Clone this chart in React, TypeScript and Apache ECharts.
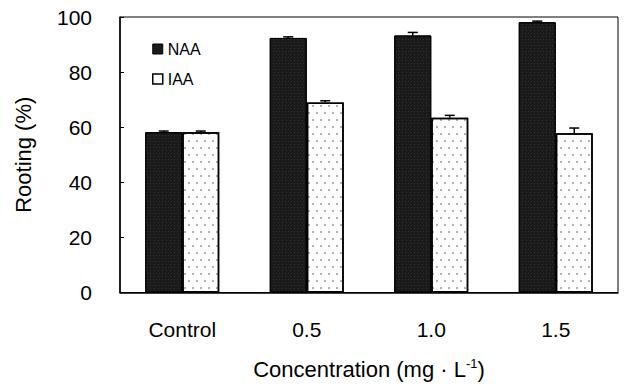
import React, { useEffect, useRef } from "react";
import * as echarts from "echarts";

const categories = ["Control", "0.5", "1.0", "1.5"];
const naaValues = [58.2, 92.4, 93.3, 98.1];
const naaErrors = [0.4, 0.4, 1.1, 0.4];
const iaaValues = [58.2, 69.0, 63.4, 57.8];
const iaaErrors = [0.4, 0.6, 0.9, 1.9];
const yTicks = [0, 20, 40, 60, 80, 100];

const FONT = "'Liberation Sans', Arial, sans-serif";
const BAR_W = 37;

function errSeries(name: string, values: number[], errors: number[], offset: number) {
  return {
    type: "custom",
    name,
    z: 5,
    silent: true,
    data: values.map((v, i) => [i, v, errors[i]]),
    renderItem: (params: any, api: any) => {
      const i = api.value(0);
      const v = api.value(1);
      const e = api.value(2);
      const b = api.coord([i, v]);
      const t = api.coord([i, v + e]);
      const x = b[0] + offset;
      return {
        type: "group",
        children: [
          { type: "line", shape: { x1: x, y1: b[1], x2: x, y2: t[1] }, style: { stroke: "#000", lineWidth: 1.5 } },
          { type: "line", shape: { x1: x - 5, y1: t[1], x2: x + 5, y2: t[1] }, style: { stroke: "#000", lineWidth: 1.5 } },
        ],
      };
    },
  };
}

export default function App() {
  const ref = useRef<HTMLDivElement>(null);
  useEffect(() => {
    if (!ref.current) return;
    const chart = echarts.init(ref.current, null, { renderer: "svg" });
    chart.setOption({
      animation: false,
      backgroundColor: "#fff",
      textStyle: { fontFamily: FONT, color: "#000" },
      grid: { left: 120, right: 6, top: 17, bottom: 89, show: true, borderColor: "#000", borderWidth: 1 },
      legend: {
        orient: "vertical",
        left: 147,
        top: 36,
        itemWidth: 10,
        itemHeight: 10,
        itemGap: 14,
        icon: "rect",
        textStyle: { fontFamily: FONT, fontSize: 16, color: "#000", padding: [0, 0, 0, 0] },
        data: [
          { name: "NAA", itemStyle: { color: "#1a1a1a", borderColor: "#000", borderWidth: 1, decal: "none" } },
          { name: "IAA", itemStyle: { color: "#fff", borderColor: "#000", borderWidth: 1.5, decal: "none" } },
        ],
      },
      xAxis: {
        type: "category",
        data: categories,
        axisLine: { lineStyle: { color: "#000", width: 1.5 } },
        axisTick: { show: false },
        axisLabel: { color: "#000", fontSize: 21, fontFamily: FONT, margin: 26 },
        name: "Concentration (mg · L{sup|-1})",
        nameLocation: "middle",
        nameGap: 64,
        nameTextStyle: {
          color: "#000",
          fontSize: 22,
          fontFamily: FONT,
          rich: { sup: { fontSize: 13, verticalAlign: "top", padding: [0, 0, 12, 0], fontFamily: FONT } },
        },
      },
      yAxis: {
        type: "value",
        min: yTicks[0],
        max: yTicks[yTicks.length - 1],
        interval: 20,
        splitLine: { show: false },
        axisLine: { show: true, lineStyle: { color: "#000", width: 1.5 } },
        axisTick: { show: true, inside: true, length: 4, lineStyle: { color: "#000" } },
        axisLabel: { color: "#000", fontSize: 21, fontFamily: FONT, margin: 28 },
        name: "Rooting (%)",
        nameLocation: "middle",
        nameGap: 86,
        nameRotate: 90,
        nameTextStyle: { color: "#000", fontSize: 22, fontFamily: FONT },
      },
      series: [
        {
          type: "bar",
          name: "NAA",
          data: naaValues,
          barWidth: BAR_W,
          barGap: "0%",
          itemStyle: {
            color: "#1a1a1a",
            borderColor: "#000",
            borderWidth: 1,
            decal: {
              symbol: "rect",
              symbolSize: 0.6,
              color: "rgba(160,160,160,0.6)",
              dashArrayX: [[1, 2], [0, 1.5, 1, 0.5]],
              dashArrayY: [1, 2],
              rotation: 0,
            },
          },
        },
        {
          type: "bar",
          name: "IAA",
          data: iaaValues,
          barWidth: BAR_W,
          barGap: "0%",
          itemStyle: {
            color: "#fff",
            borderColor: "#000",
            borderWidth: 1.5,
            decal: {
              symbol: "rect",
              symbolSize: 0.6,
              color: "#000",
              dashArrayX: [[2, 6], [0, 4, 2, 2]],
              dashArrayY: [2, 5],
              rotation: 0,
            },
          },
        },
        errSeries("NAAerr", naaValues, naaErrors, -BAR_W / 2),
        errSeries("IAAerr", iaaValues, iaaErrors, BAR_W / 2),
      ],
    });
    return () => chart.dispose();
  }, []);
  return <div ref={ref} style={{ width: 624, height: 385, position: "absolute", left: 0, top: 0 }} />;
}
